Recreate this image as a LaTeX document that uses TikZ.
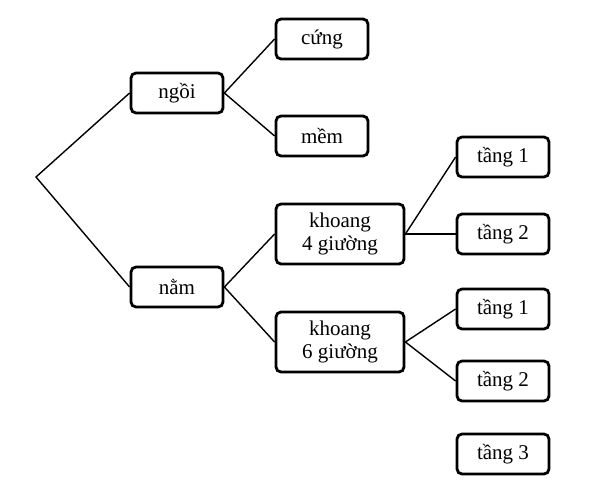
\documentclass[tikz,border=0pt]{standalone}
\usepackage{fontspec}
\setmainfont{Liberation Serif}
\usetikzlibrary{positioning}
\tikzset{box/.style={draw, line width=2.8pt, rounded corners=5pt, minimum width=92pt, minimum height=40pt, inner sep=2pt, align=center, font=\fontsize{21}{23}\selectfont},
  wide/.style={box, minimum width=128pt, minimum height=60pt},
  link/.style={line width=1.4pt}}
\begin{document}
\begin{tikzpicture}[x=1pt, y=-1pt]
\useasboundingbox (0,0) rectangle (607,495);
\coordinate (root) at (36,177);
\node[box] (ngoi) at (177,93) {ngồi};
\node[box] (nam) at (177,287) {nằm};
\node[box] (cung) at (322,39) {cứng};
\node[box] (mem) at (322,136) {mềm};
\node[wide] (k4) at (340,234) {khoang\\4 giường};
\node[wide] (k6) at (340,342) {khoang\\6 giường};
\node[box] (t41) at (503,157) {tầng 1};
\node[box] (t42) at (503,234) {tầng 2};
\node[box] (t61) at (503,309) {tầng 1};
\node[box] (t62) at (503,381) {tầng 2};
\node[box] (t63) at (503,454) {tầng 3};
% branches
\draw[link] (ngoi.west) -- (root) -- (nam.west);
\foreach \a/\b in {ngoi/cung, ngoi/mem, nam/k4, nam/k6, k4/t41, k4/t42, k6/t61, k6/t62}
  {\draw[link] (\a.east) -- (\b.west);}
\end{tikzpicture}
\end{document}
